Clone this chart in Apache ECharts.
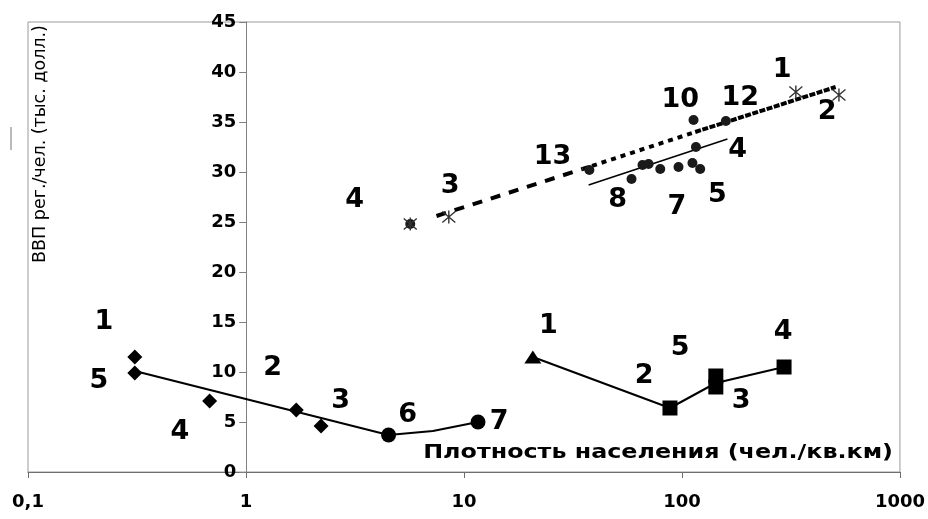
<!DOCTYPE html>
<html>
<head>
<meta charset="utf-8">
<script src="https://cdn.jsdelivr.net/npm/echarts@6/dist/echarts.min.js"></script>
<style>
html,body{margin:0;padding:0;background:#fff;}
#chart{width:928px;height:519px;}
</style>
</head>
<body>
<div id="chart"></div>
<script>
// ---- data ----
const xTicks = [0.1, 1, 10, 100, 1000];
const yMin = 0, yMax = 45, yStep = 5;

const diamondX = [0.309, 0.309, 0.681, 1.70, 2.21];
const diamondY = [11.5, 9.9, 7.1, 6.2, 4.6];
const circleX = [4.51, 11.6];
const circleY = [3.7, 5.0];
const lineAX = [0.309, 4.51, 7.2, 11.6];
const lineAY = [10.1, 3.7, 4.1, 5.0];

const triangleX = [20.7];
const triangleY = [11.5];
const squareX = [88.1, 143, 143, 294];
const squareY = [6.4, 9.6, 8.5, 10.5];
const lineBX = [20.7, 88.1, 143, 294];
const lineBY = [11.5, 6.4, 8.9, 10.5];

const dotX = [37.6, 58.7, 65.9, 70.3, 79.5, 96.4, 111.7, 121.2, 115.9, 113, 159, 5.67];
const dotY = [30.2, 29.3, 30.7, 30.8, 30.3, 30.5, 30.9, 30.3, 32.5, 35.2, 35.1, 24.8];
const starX = [5.67, 8.52, 333, 525];
const starY = [24.8, 25.5, 38.0, 37.7];

const trend1X = [7.48, 35];   const trend1Y = [25.6, 30.3];
const trend2X = [35, 115];    const trend2Y = [30.3, 34.0];
const trend3X = [115, 507];   const trend3Y = [34.0, 38.5];
const fitX = [37.3, 161.7];
const fitY = [28.7, 33.3];

const labelX = [0.223, 0.2115, 0.497, 1.326, 2.72, 5.51, 14.5,
                24.4, 98.2, 67.1, 187, 291,
                3.15, 8.65, 25.5, 98.2, 185, 288, 463, 180, 50.7, 94.8, 145.5];
const labelY = [15.0, 9.1, 4.0, 10.4, 7.1, 5.7, 5.0,
                14.6, 12.4, 9.6, 7.1, 14.0,
                27.2, 28.6, 31.5, 37.2, 37.4, 40.2, 36.0, 32.2, 27.2, 26.5, 27.7];
const labelText = ['1','5','4','2','3','6','7',
                   '1','5','2','3','4',
                   '4','3','13','10','12','1','2','4','8','7','5'];

const xTitle = 'Плотность населения (чел./кв.км)';
const yTitle = 'ВВП рег./чел. (тыс. долл.)';

// ---- helpers ----
const zip = (xs, ys) => xs.map((x, i) => [x, ys[i]]);

const GRID = {left: 28, right: 27, top: 22, bottom: 47};
const gridW = 928 - GRID.left - GRID.right;
const decades = Math.log10(xTicks[xTicks.length - 1]) - Math.log10(xTicks[0]);
const yAxisOffset = -gridW * (Math.log10(1) - Math.log10(xTicks[0])) / decades;

const FONT = 'DejaVu Sans';
const starPath = 'path://M0,0L10,10M10,0L0,10M5,-1L5,11';

const chart = echarts.init(document.getElementById('chart'));
chart.setOption({
  animation: false,
  backgroundColor: '#fff',
  grid: Object.assign({show: true, borderColor: '#9a9a9a', borderWidth: 1, backgroundColor: 'transparent'}, GRID),
  xAxis: {
    type: 'log', logBase: 10, min: xTicks[0], max: xTicks[xTicks.length - 1],
    axisLine: {onZero: false, lineStyle: {color: '#6e6e6e', width: 1}},
    axisTick: {show: true, length: 6, lineStyle: {color: '#6e6e6e'}},
    splitLine: {show: false},
    axisLabel: {
      margin: 21, color: '#000', fontFamily: FONT, fontWeight: 'bold', fontSize: 18,
      formatter: v => String(v).replace('.', ',')
    }
  },
  yAxis: {
    type: 'value', min: yMin, max: yMax, interval: yStep,
    offset: yAxisOffset,
    axisLine: {show: true, onZero: false, lineStyle: {color: '#808080', width: 1}},
    axisTick: {show: true, length: 7, lineStyle: {color: '#808080'}},
    splitLine: {show: false},
    axisLabel: {margin: 10, color: '#000', fontFamily: FONT, fontWeight: 'bold', fontSize: 18}
  },
  graphic: [
    {type: 'text', x: 893, y: 453, scaleX: 1.19,
     style: {text: xTitle, fill: '#000', font: 'bold 20px "DejaVu Sans"', align: 'right', verticalAlign: 'middle'}},
    {type: 'text', x: 40, y: 144, rotation: Math.PI / 2,
     style: {text: yTitle, fill: '#000', font: '17.5px "DejaVu Sans"', align: 'center', verticalAlign: 'middle'}},
    {type: 'line', shape: {x1: 11, y1: 127, x2: 11, y2: 150}, style: {stroke: '#777', lineWidth: 1}}
  ],
  series: [
    {type: 'line', data: zip(lineAX, lineAY), symbol: 'none', lineStyle: {color: '#000', width: 2}, z: 2},
    {type: 'line', data: zip(lineBX, lineBY), symbol: 'none', lineStyle: {color: '#000', width: 2}, z: 2},
    {type: 'line', data: zip(fitX, fitY), symbol: 'none', lineStyle: {color: '#000', width: 1.6}, z: 2},
    {type: 'line', data: zip(trend1X, trend1Y), symbol: 'none', lineStyle: {color: '#000', width: 4, type: [10, 9]}, z: 2},
    {type: 'line', data: zip(trend2X, trend2Y), symbol: 'none', lineStyle: {color: '#000', width: 4, type: [5, 5]}, z: 2},
    {type: 'line', data: zip(trend3X, trend3Y), symbol: 'none', lineStyle: {color: '#000', width: 4, type: [6, 1.5]}, z: 2},
    {type: 'scatter', data: zip(diamondX, diamondY), symbol: 'diamond', symbolSize: 15, itemStyle: {color: '#000', opacity: 1}, z: 3},
    {type: 'scatter', data: zip(circleX, circleY), symbol: 'circle', symbolSize: 15, itemStyle: {color: '#000', opacity: 1}, z: 3},
    {type: 'scatter', data: zip(triangleX, triangleY), symbol: 'triangle', symbolSize: [17, 13], itemStyle: {color: '#000', opacity: 1}, z: 3},
    {type: 'scatter', data: zip(squareX, squareY), symbol: 'rect', symbolSize: 15, itemStyle: {color: '#000', opacity: 1}, z: 3},
    {type: 'scatter', data: zip(dotX, dotY), symbol: 'circle', symbolSize: 10, itemStyle: {color: '#1a1a1a', opacity: 1}, z: 3},
    {type: 'scatter', data: zip(starX, starY), symbol: starPath, symbolSize: 13,
     itemStyle: {color: 'none', borderColor: '#333', borderWidth: 1.4, opacity: 1}, z: 4},
    {type: 'scatter', data: labelX.map((x, i) => [x, labelY[i]]),
     symbolSize: 1, itemStyle: {color: 'rgba(0,0,0,0)', opacity: 1}, z: 5,
     label: {show: true, position: 'inside', color: '#000', opacity: 1, fontFamily: FONT, fontWeight: 'bold', fontSize: 27,
             formatter: p => labelText[p.dataIndex]}}
  ]
});
</script>
</body>
</html>
